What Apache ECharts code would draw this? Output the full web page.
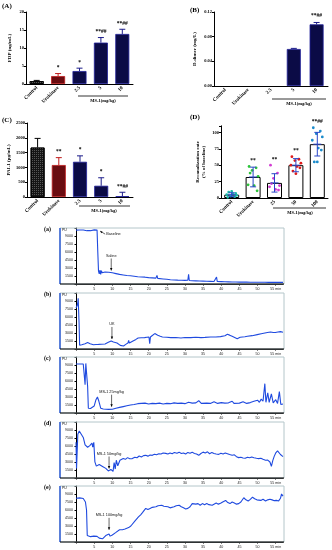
<!DOCTYPE html>
<html><head><meta charset="utf-8">
<script src="https://cdn.jsdelivr.net/npm/echarts@6/dist/echarts.min.js"></script>
<style>html,body{margin:0;padding:0;background:#fff}#c{width:332px;height:550px}</style>
</head><body><div id="c"></div>
<script>
// ---------- DATA ----------
const groups = ['Control', 'Urokinase', '2.5', '5', '10'];
const groupsD = ['Control', 'Urokinase', '25', '50', '100'];
const fdpMean = [0.8, 2.2, 3.6, 11.5, 13.9];
const fdpErr = [0.2, 0.7, 0.8, 1.4, 1.3];
const fdpSig = ['', '*', '*', '**##', '**##'];
const ddMean = [0, 0, 0, 0.060, 0.100];
const ddErr = [0, 0, 0, 0.001, 0.003];
const ddSig = ['', '', '', '', '**##'];
const paiMean = [1670, 1080, 1190, 380, 30];
const paiErr = [310, 250, 200, 270, 130];
const paiSig = ['', '**', '*', '*', '**##'];
const recMean = [5, 32, 23, 50, 82];
const recSd = [3, 15, 14, 10, 18];
const recSig = ['', '**', '**', '**', '**##'];
const recDotsControl = [1, 2, 3, 4, 5, 6, 7, 9, 10];
const recDotsUro = [48, 46, 42, 33, 20, 19, 11, 38];
const recDots25 = [50, 38, 30, 19, 17, 13, 12, 22];
const recDots50 = [63, 59, 57, 53, 50, 48, 46, 41, 37];
const recDots100 = [107, 102, 98, 93, 88, 76, 73, 55, 55];
const timeTickLabels = ['', '5', '10', '15', '20', '25', '30', '35', '40', '45', '50', '55 min'];
const puTickLabels = ['', '1500', '3000', '4500', '6000', '7500', '9000', ''];

const traceA = [[0,10100],[0.5,10150],[1,10120],[1.5,10180],[2,10130],[2.5,10100],[3,10000],[3.5,9900],[4,10000],[4.5,10150],[5,10150],[5.5,10160],[5.8,10100],[6.0,6000],[6.2,2400],[6.4,1900],[6.6,2600],[6.8,1800],[7,2500],[7.2,2100],[7.5,2300],[8,2250],[8.5,2280],[9,2200],[9.5,2150],[10,2100],[11,1950],[12,1800],[13,1700],[14,1600],[15,1550],[16,1450],[17,1350],[18,1300],[19,1280],[20,1200],[21,1150],[22,1100],[22.3,1600],[22.5,1050],[23,1000],[24,950],[25,880],[26,800],[27,760],[28,720],[29,700],[30,680],[30.8,700],[31,1800],[31.2,650],[32,620],[33,590],[34,560],[35,540],[36,520],[37,500],[38,480],[38.5,470],[38.7,1300],[38.9,460],[40,440],[41,420],[42,400],[43,380],[44,370],[45,360],[46,350],[47,350],[48,340],[49,330],[50,330],[51,320],[52,320],[53,310],[54,310],[55,300],[56,300],[57,300]];
const traceB = [[0,7700],[0.3,8100],[0.5,8700],[0.6,9500],[0.75,9300],[0.85,4800],[1.0,700],[1.6,800],[2.5,1000],[3.2,1200],[3.9,1000],[4.8,800],[5.5,850],[6.2,870],[7,900],[8.0,930],[8.9,1250],[9.7,1500],[10.3,1300],[11.3,1120],[12.2,680],[13.1,560],[13.7,870],[14.3,1120],[14.5,1630],[14.7,1120],[15.7,1500],[16.5,1800],[17.1,2070],[18,2100],[18.9,2130],[19.5,2200],[20.1,2260],[20.3,1000],[20.5,2260],[21.1,2570],[21.7,2890],[22.5,2570],[23.2,2400],[23.8,2260],[25,2200],[26.1,2130],[27.5,2150],[28.9,2070],[30,2150],[31.6,2130],[33,2200],[34.4,2130],[35.5,2180],[37.1,2260],[38.5,2250],[39.8,2320],[41,2500],[41.7,2760],[42.3,2600],[43.0,2380],[44.4,1940],[45.2,2200],[45.5,2250],[46.5,2300],[47.2,2380],[48.5,2500],[49.9,2700],[51,2850],[52.7,3080],[53.6,3200],[54.3,3100],[54.9,3080],[55.6,3200],[56.3,3260],[57,3150]];
const traceC = [[0,9190],[1,9200],[1.5,9150],[2,9200],[2.3,9100],[2.5,5300],[2.7,9300],[3.0,9350],[3.2,5000],[3.4,900],[4,850],[4.5,900],[5,1300],[5.5,2500],[5.9,3000],[6.3,2200],[6.8,900],[7.5,750],[8,700],[9,680],[10,700],[11,900],[12,1050],[13,1200],[14,1350],[15,1500],[15.5,1700],[16,1600],[17,1750],[18,1800],[18.5,1650],[19,1850],[20,1700],[21,1800],[22,1750],[23,1850],[24,1700],[25,1800],[26,1750],[27,1900],[28,1800],[29,1850],[30,1750],[31,2000],[31.5,2300],[32,1850],[33,1900],[33.8,2300],[34.5,1800],[35,1900],[36,1850],[37,1800],[38,2100],[39,1800],[40,1950],[41,1850],[42,1900],[43,2200],[43.5,1800],[44,1900],[45,1850],[46,2100],[47,1800],[48,1950],[49,2200],[49.5,2000],[50,2400],[50.5,2000],[51,2600],[51.5,2200],[52,5500],[52.3,2000],[52.8,3800],[53.2,2000],[53.8,3600],[54.3,1900],[55,2500],[55.5,1800],[56,4000],[56.4,1600],[57,1700]];
const traceD = [[0,6690],[0.15,1800],[0.5,8200],[0.9,8820],[1.4,8640],[2.0,7600],[2.5,6200],[3.2,5770],[3.8,6075],[4.2,5900],[4.4,6560],[4.6,5770],[4.9,6690],[5.2,3030],[5.6,2230],[6.0,2400],[6.4,2540],[6.9,2300],[7.3,2170],[7.8,2000],[8.2,1800],[8.9,1320],[9.6,1620],[10.2,1250],[10.5,2900],[10.8,1680],[11.1,3330],[11.5,2290],[12.1,3330],[12.5,3200],[13.0,3640],[13.6,3500],[14.2,3820],[14.8,3600],[15.5,3640],[16.2,3900],[16.8,3800],[17.4,4120],[18.0,3950],[18.6,4200],[19.2,4250],[19.8,4100],[20.4,4300],[21.0,4250],[21.6,4450],[22.2,4350],[22.8,4550],[23.4,4500],[24.0,4700],[24.7,4620],[25.3,4500],[25.9,4700],[26.5,4550],[27.1,4800],[27.8,4650],[28.4,4850],[29.0,4600],[29.6,4700],[30.2,4500],[30.8,4800],[31.4,4650],[32.0,4850],[32.6,4600],[33.2,4500],[33.8,4250],[34.4,4600],[35.0,4850],[35.6,4700],[36.2,4900],[36.8,4550],[37.4,4800],[38.0,4600],[38.6,4500],[39.3,4430],[39.9,4650],[40.5,4500],[41.1,4700],[41.7,4550],[42.3,4400],[43.0,4250],[43.6,4350],[44.2,4000],[44.8,3820],[45.4,3900],[46.0,3750],[46.6,3700],[47.2,3900],[47.8,3800],[48.4,3950],[49.0,3800],[49.7,3700],[50.3,3640],[50.9,3700],[51.5,3500],[52.2,3330],[52.8,3350],[53.4,3000],[53.8,2200],[54.2,3300],[54.6,4100],[55.0,4700],[55.5,5100],[55.9,4900],[56.3,4400],[57,4000]];
const traceE = [[0,8200],[0.5,8350],[1,8280],[1.5,8400],[2,8150],[2.3,7900],[2.6,7500],[2.9,6000],[3.1,1200],[3.5,1100],[4,1000],[4.4,900],[4.9,1100],[5.3,950],[5.8,1050],[6.4,720],[6.9,800],[7.3,600],[7.8,900],[8.2,1200],[8.6,1000],[9.1,1500],[9.4,1100],[10.0,1320],[10.5,1500],[11.0,1800],[11.4,1500],[12.0,2300],[12.3,2520],[12.8,2300],[13.5,2450],[14.0,2400],[14.5,2700],[15.1,3000],[15.6,3300],[16.2,3900],[16.7,4200],[17.2,4700],[17.8,5100],[18.3,5500],[18.8,5700],[19.2,6300],[19.8,6100],[20.4,6300],[21.0,6500],[21.5,6400],[22.0,6600],[22.6,6800],[23.1,6700],[23.6,6900],[24.2,6700],[24.7,6900],[25.3,6600],[25.9,6400],[26.4,6300],[27.0,6600],[27.6,6800],[28.4,6900],[29.0,6600],[29.6,6400],[30.2,6200],[30.8,6300],[31.4,6600],[32.0,7200],[32.5,7500],[33.0,7100],[33.6,7200],[34.2,6900],[34.8,7200],[35.4,7000],[36.0,7200],[36.6,7000],[37.5,6900],[38.0,7100],[38.6,7300],[39.2,7100],[39.8,7250],[40.4,7500],[41.2,7800],[41.8,7400],[42.4,7200],[43.0,7500],[43.6,7300],[44.2,7100],[44.8,7200],[45.4,7500],[46.2,8300],[46.8,7900],[47.4,7700],[48.0,8000],[48.6,8400],[49.2,8100],[49.8,7900],[50.3,8100],[50.9,7800],[51.5,8000],[52.2,7700],[52.8,7900],[53.4,8000],[54.0,7900],[54.6,7750],[55.2,7800],[55.8,7700],[56.3,8200],[56.6,9000],[57,8600]];

// annotations on traces: [time, value at arrow tip]
const notesA = [{t: 6.1, v: 10100, text: 'Baseline', dir: 'left'}, {t: 9.7, v: 2250, text: 'Saline', dir: 'down'}];
const notesB = [{t: 9.9, v: 1600, text: 'UK', dir: 'down'}];
const notesC = [{t: 9.8, v: 900, text: 'MS-1 25mg/kg', dir: 'down'}];
const notesD = [{t: 9.1, v: 1500, text: 'MS-1 50mg/kg', dir: 'down'}];
const notesE = [{t: 9.1, v: 2000, text: 'MS-1 100mg/kg', dir: 'down'}];

// ---------- STYLE / LAYOUT ----------
const SERIF = '"Liberation Serif","DejaVu Serif",serif';
const SANS = '"Liberation Sans","DejaVu Sans",sans-serif';
const TRACE_TOPS = [228, 293, 357, 422, 486];
const TRACE_H = 56;
const chart = echarts.init(document.getElementById('c'), null, {width: 332, height: 550});

const barStyleABC = [
  {color: '#151515', borderColor: '#000', borderWidth: 0.8, decal: {symbol: 'rect', symbolSize: 1, color: 'rgba(140,140,140,0.55)', dashArrayX: [1, 1], dashArrayY: [1, 1]}},
  {color: '#6a0c10', borderColor: '#c01c1c', borderWidth: 0.8},
  {color: '#0b0b46', borderColor: '#22229a', borderWidth: 0.8},
  {color: '#0b0b46', borderColor: '#22229a', borderWidth: 0.8},
  {color: '#0b0b46', borderColor: '#22229a', borderWidth: 0.8}
];
const errColors = ['#000', '#c01c1c', '#1c1c8a', '#1c1c8a', '#1c1c8a'];
const dotColors = ['#1cb8a6', '#2cc43a', '#d23cd2', '#e01a1a', '#1c8ccc'];
const jitter = [-4, 3, -1, 5, -5, 1, 4, -3, 0];

const grids = [
  {left: 26, top: 12, width: 107, height: 72},
  {left: 214, top: 12, width: 114, height: 74},
  {left: 27, top: 123, width: 106, height: 74},
  {left: 221, top: 125.8, width: 107, height: 72.2}
];
TRACE_TOPS.forEach(t => grids.push({left: 76, top: t, width: 207, height: TRACE_H}));

function barX(gi, cats) {
  return {gridIndex: gi, type: 'category', data: cats,
    axisLine: {lineStyle: {color: '#000', width: 1}},
    axisTick: {alignWithLabel: true, length: 2, lineStyle: {color: '#000'}},
    axisLabel: {rotate: 45, interval: 0, fontSize: 5, fontFamily: SERIF, fontWeight: 'bold', color: '#000', margin: 3}};
}
function barY(gi, max, interval, name, gap, fmt) {
  return {gridIndex: gi, type: 'value', min: 0, max: max, interval: interval,
    splitLine: {show: false},
    axisLine: {show: true, lineStyle: {color: '#000', width: 1}},
    axisTick: {show: true, length: 2, lineStyle: {color: '#000'}},
    axisLabel: {fontSize: 4.5, fontFamily: SERIF, fontWeight: 'bold', color: '#000', margin: 2, formatter: fmt},
    name: name, nameLocation: 'middle', nameRotate: 90, nameGap: gap,
    nameTextStyle: {fontSize: 5, fontFamily: SERIF, fontWeight: 'bold', color: '#000', lineHeight: 6}};
}
function traceX(gi) {
  return {gridIndex: gi, type: 'value', min: 0, max: 57, interval: 5,
    splitLine: {show: false},
    axisLine: {lineStyle: {color: '#000', width: 1}},
    axisTick: {length: 1.5, lineStyle: {color: '#000'}},
    axisLabel: {fontSize: 3.6, fontFamily: SANS, color: '#222', margin: 3, showMaxLabel: false,
      formatter: v => timeTickLabels[Math.round(v / 5)] || ''}};
}
function traceY(gi) {
  return {gridIndex: gi, type: 'value', min: 0, max: 10500, interval: 1500,
    splitLine: {show: false},
    axisLine: {show: true, lineStyle: {color: '#000', width: 1}},
    axisTick: {show: true, length: 1.5, lineStyle: {color: '#000'}},
    axisLabel: {fontSize: 3.6, fontFamily: SANS, color: '#222', margin: 3,
      formatter: v => puTickLabels[Math.round(v / 1500)] || ''}};
}

function barSeries(gi, means, styles, width) {
  return {type: 'bar', xAxisIndex: gi, yAxisIndex: gi, barWidth: width, silent: true,
    data: means.map((v, i) => ({value: v, itemStyle: v ? styles[i] : {opacity: 0}}))};
}
function errSeries(gi, means, errs, colors, both) {
  return {type: 'custom', xAxisIndex: gi, yAxisIndex: gi, z: 5, silent: true,
    data: means.map((m, i) => [i, m, errs[i]]),
    renderItem: function (params, api) {
      const i = api.value(0), m = api.value(1), e = api.value(2);
      if (!e) return {type: 'group', children: []};
      const c = colors[params.dataIndex];
      const pTop = api.coord([i, m + e]);
      const pBot = api.coord([i, both ? m - e : m]);
      const w = 3;
      const ch = [
        {type: 'line', shape: {x1: pTop[0], y1: pBot[1], x2: pTop[0], y2: pTop[1]}, style: {stroke: c, lineWidth: 1}},
        {type: 'line', shape: {x1: pTop[0] - w, y1: pTop[1], x2: pTop[0] + w, y2: pTop[1]}, style: {stroke: c, lineWidth: 1}}
      ];
      if (both) {
        ch.push({type: 'line', shape: {x1: pTop[0] - w, y1: pBot[1], x2: pTop[0] + w, y2: pBot[1]}, style: {stroke: c, lineWidth: 1}});
        const pm = api.coord([i, m]);
        ch.push({type: 'line', shape: {x1: pTop[0] - w - 1, y1: pm[1], x2: pTop[0] + w + 1, y2: pm[1]}, style: {stroke: c, lineWidth: 1}});
      }
      return {type: 'group', children: ch};
    }};
}
function sigSeries(gi, tops, sig, gap) {
  return {type: 'custom', xAxisIndex: gi, yAxisIndex: gi, z: 6, silent: true,
    data: tops.map((t, i) => [i, t]),
    renderItem: function (params, api) {
      const s = sig[params.dataIndex];
      if (!s) return {type: 'group', children: []};
      const p = api.coord([api.value(0), api.value(1)]);
      return {type: 'text', style: {text: s, x: p[0], y: p[1] - gap, align: 'center', verticalAlign: 'bottom',
        font: 'bold 5.5px ' + SERIF, fill: '#000'}};
    }};
}
function dotSeries(gi, groupsDots) {
  const data = [];
  groupsDots.forEach((arr, g) => arr.forEach((v, k) => data.push([g, v, k])));
  return {type: 'custom', xAxisIndex: gi, yAxisIndex: gi, z: 4, silent: true, data: data,
    renderItem: function (params, api) {
      const g = api.value(0), v = api.value(1), k = api.value(2);
      const p = api.coord([g, v]);
      return {type: 'circle', shape: {cx: p[0] + jitter[k % jitter.length], cy: p[1], r: 1.4},
        style: {fill: dotColors[g]}};
    }};
}
function traceSeries(gi, data) {
  return {type: 'line', xAxisIndex: gi, yAxisIndex: gi, data: data, showSymbol: false, silent: true,
    lineStyle: {color: '#1f4adf', width: 1.1}, animation: false};
}
function noteSeries(gi, notes) {
  return {type: 'custom', xAxisIndex: gi, yAxisIndex: gi, z: 7, silent: true,
    data: notes.map(n => [n.t, n.v]),
    renderItem: function (params, api) {
      const n = notes[params.dataIndex];
      const p = api.coord([api.value(0), api.value(1)]);
      const ch = [];
      if (n.dir === 'down') {
        const tipY = p[1] - 1.5, tailY = tipY - 12;
        ch.push({type: 'line', shape: {x1: p[0], y1: tailY, x2: p[0], y2: tipY}, style: {stroke: '#000', lineWidth: 0.6}});
        ch.push({type: 'polygon', shape: {points: [[p[0] - 1.2, tipY - 2.5], [p[0] + 1.2, tipY - 2.5], [p[0], tipY]]}, style: {fill: '#000'}});
        ch.push({type: 'text', style: {text: n.text, x: p[0], y: tailY - 1, align: 'center', verticalAlign: 'bottom', font: '3.8px ' + SANS, fill: '#111'}});
      } else {
        const tx = p[0] + 2, ty = p[1] + 1;
        ch.push({type: 'line', shape: {x1: tx + 5, y1: ty + 3, x2: tx, y2: ty}, style: {stroke: '#000', lineWidth: 0.6}});
        ch.push({type: 'polygon', shape: {points: [[tx, ty], [tx + 2.4, ty + 0.4], [tx + 1.3, ty + 2]]}, style: {fill: '#000'}});
        ch.push({type: 'text', style: {text: n.text, x: tx + 6, y: ty + 3, align: 'left', verticalAlign: 'middle', font: '3.8px ' + SANS, fill: '#111'}});
      }
      return {type: 'group', children: ch};
    }};
}

const recDots = [recDotsControl, recDotsUro, recDots25, recDots50, recDots100];
const recTops = recMean.map((m, i) => Math.max(m + recSd[i], Math.max.apply(null, recDots[i])));
const barStyleD = recMean.map(() => ({color: '#fff', borderColor: '#000', borderWidth: 1}));

const xAxes = [barX(0, groups), barX(1, groups), barX(2, groups), barX(3, groupsD)];
const yAxes = [
  barY(0, 20, 5, 'FDP (ng/mL)', 13, v => String(v)),
  barY(1, 0.12, 0.04, 'D-dimer (mg/L)', 16, v => v.toFixed(2)),
  barY(2, 2500, 500, 'PAI-1 (pg/mL)', 15, v => String(v)),
  barY(3, 110, 25, 'Recanalization rate\n(% of baseline)', 14, v => (v % 25 === 0 ? String(v) : ''))
];
for (let k = 0; k < 5; k++) { xAxes.push(traceX(4 + k)); yAxes.push(traceY(4 + k)); }

const series = [
  barSeries(0, fdpMean, barStyleABC, 14),
  errSeries(0, fdpMean, fdpErr, errColors, false),
  sigSeries(0, fdpMean.map((m, i) => m + fdpErr[i]), fdpSig, 3),
  barSeries(1, ddMean, barStyleABC, 14),
  errSeries(1, ddMean, ddErr, errColors, false),
  sigSeries(1, ddMean.map((m, i) => m + ddErr[i]), ddSig, 4),
  barSeries(2, paiMean, barStyleABC, 14),
  errSeries(2, paiMean, paiErr, errColors, false),
  sigSeries(2, paiMean.map((m, i) => m + paiErr[i]), paiSig, 3),
  barSeries(3, recMean, barStyleD, 15),
  dotSeries(3, recDots),
  errSeries(3, recMean, recSd, ['#2a46c8', '#2a46c8', '#2a46c8', '#2a46c8', '#2a46c8'], true),
  sigSeries(3, recTops, recSig, 3),
  traceSeries(4, traceA), noteSeries(4, notesA),
  traceSeries(5, traceB), noteSeries(5, notesB),
  traceSeries(6, traceC), noteSeries(6, notesC),
  traceSeries(7, traceD), noteSeries(7, notesD),
  traceSeries(8, traceE), noteSeries(8, notesE)
];

// decorations
const graphic = [];
function txt(x, y, s, font, align) {
  graphic.push({type: 'text', silent: true, z: 10, style: {text: s, x: x, y: y, font: font, fill: '#000', align: align || 'left', verticalAlign: 'middle'}});
}
function ln(x1, y1, x2, y2, color, w) {
  graphic.push({type: 'line', silent: true, z: 10, shape: {x1: x1, y1: y1, x2: x2, y2: y2}, style: {stroke: color, lineWidth: w}});
}
const PF = 'bold 7px ' + SERIF;
txt(2, 6, '(A)', PF); txt(190, 10, '(B)', PF); txt(2, 120, '(C)', PF); txt(190, 117, '(D)', PF);
const BF = 'bold 4.5px ' + SERIF;
ln(78, 96, 128, 96, '#000', 0.8); txt(103, 100.5, 'MS-1(mg/kg)', BF, 'center');
ln(272, 99, 326, 99, '#000', 0.8); txt(299, 103.5, 'MS-1(mg/kg)', BF, 'center');
ln(79, 206, 130, 206, '#000', 0.8); txt(104, 211, 'MS-1(mg/kg)', BF, 'center');
ln(273, 208, 326, 208, '#000', 0.8); txt(300, 213, 'MS-1(mg/kg)', BF, 'center');
const panelNames = ['(a)', '(b)', '(c)', '(d)', '(e)'];
TRACE_TOPS.forEach((t, k) => {
  graphic.push({type: 'rect', silent: true, z: 1, shape: {x: 60, y: t, width: 224, height: TRACE_H},
    style: {fill: null, stroke: '#b4c6ca', lineWidth: 1}});
  ln(60, t, 60, t + TRACE_H, '#3a66d6', 1.6);
  ln(60, t + TRACE_H, 284, t + TRACE_H, '#000', 1);
  txt(62, t + 2.5, 'PU', '3.4px ' + SANS);
  txt(44, t + 1, panelNames[k], 'bold 6px ' + SERIF);
});

chart.setOption({
  animation: false,
  backgroundColor: '#fff',
  grid: grids,
  xAxis: xAxes,
  yAxis: yAxes,
  series: series,
  graphic: graphic
});
</script></body></html>
